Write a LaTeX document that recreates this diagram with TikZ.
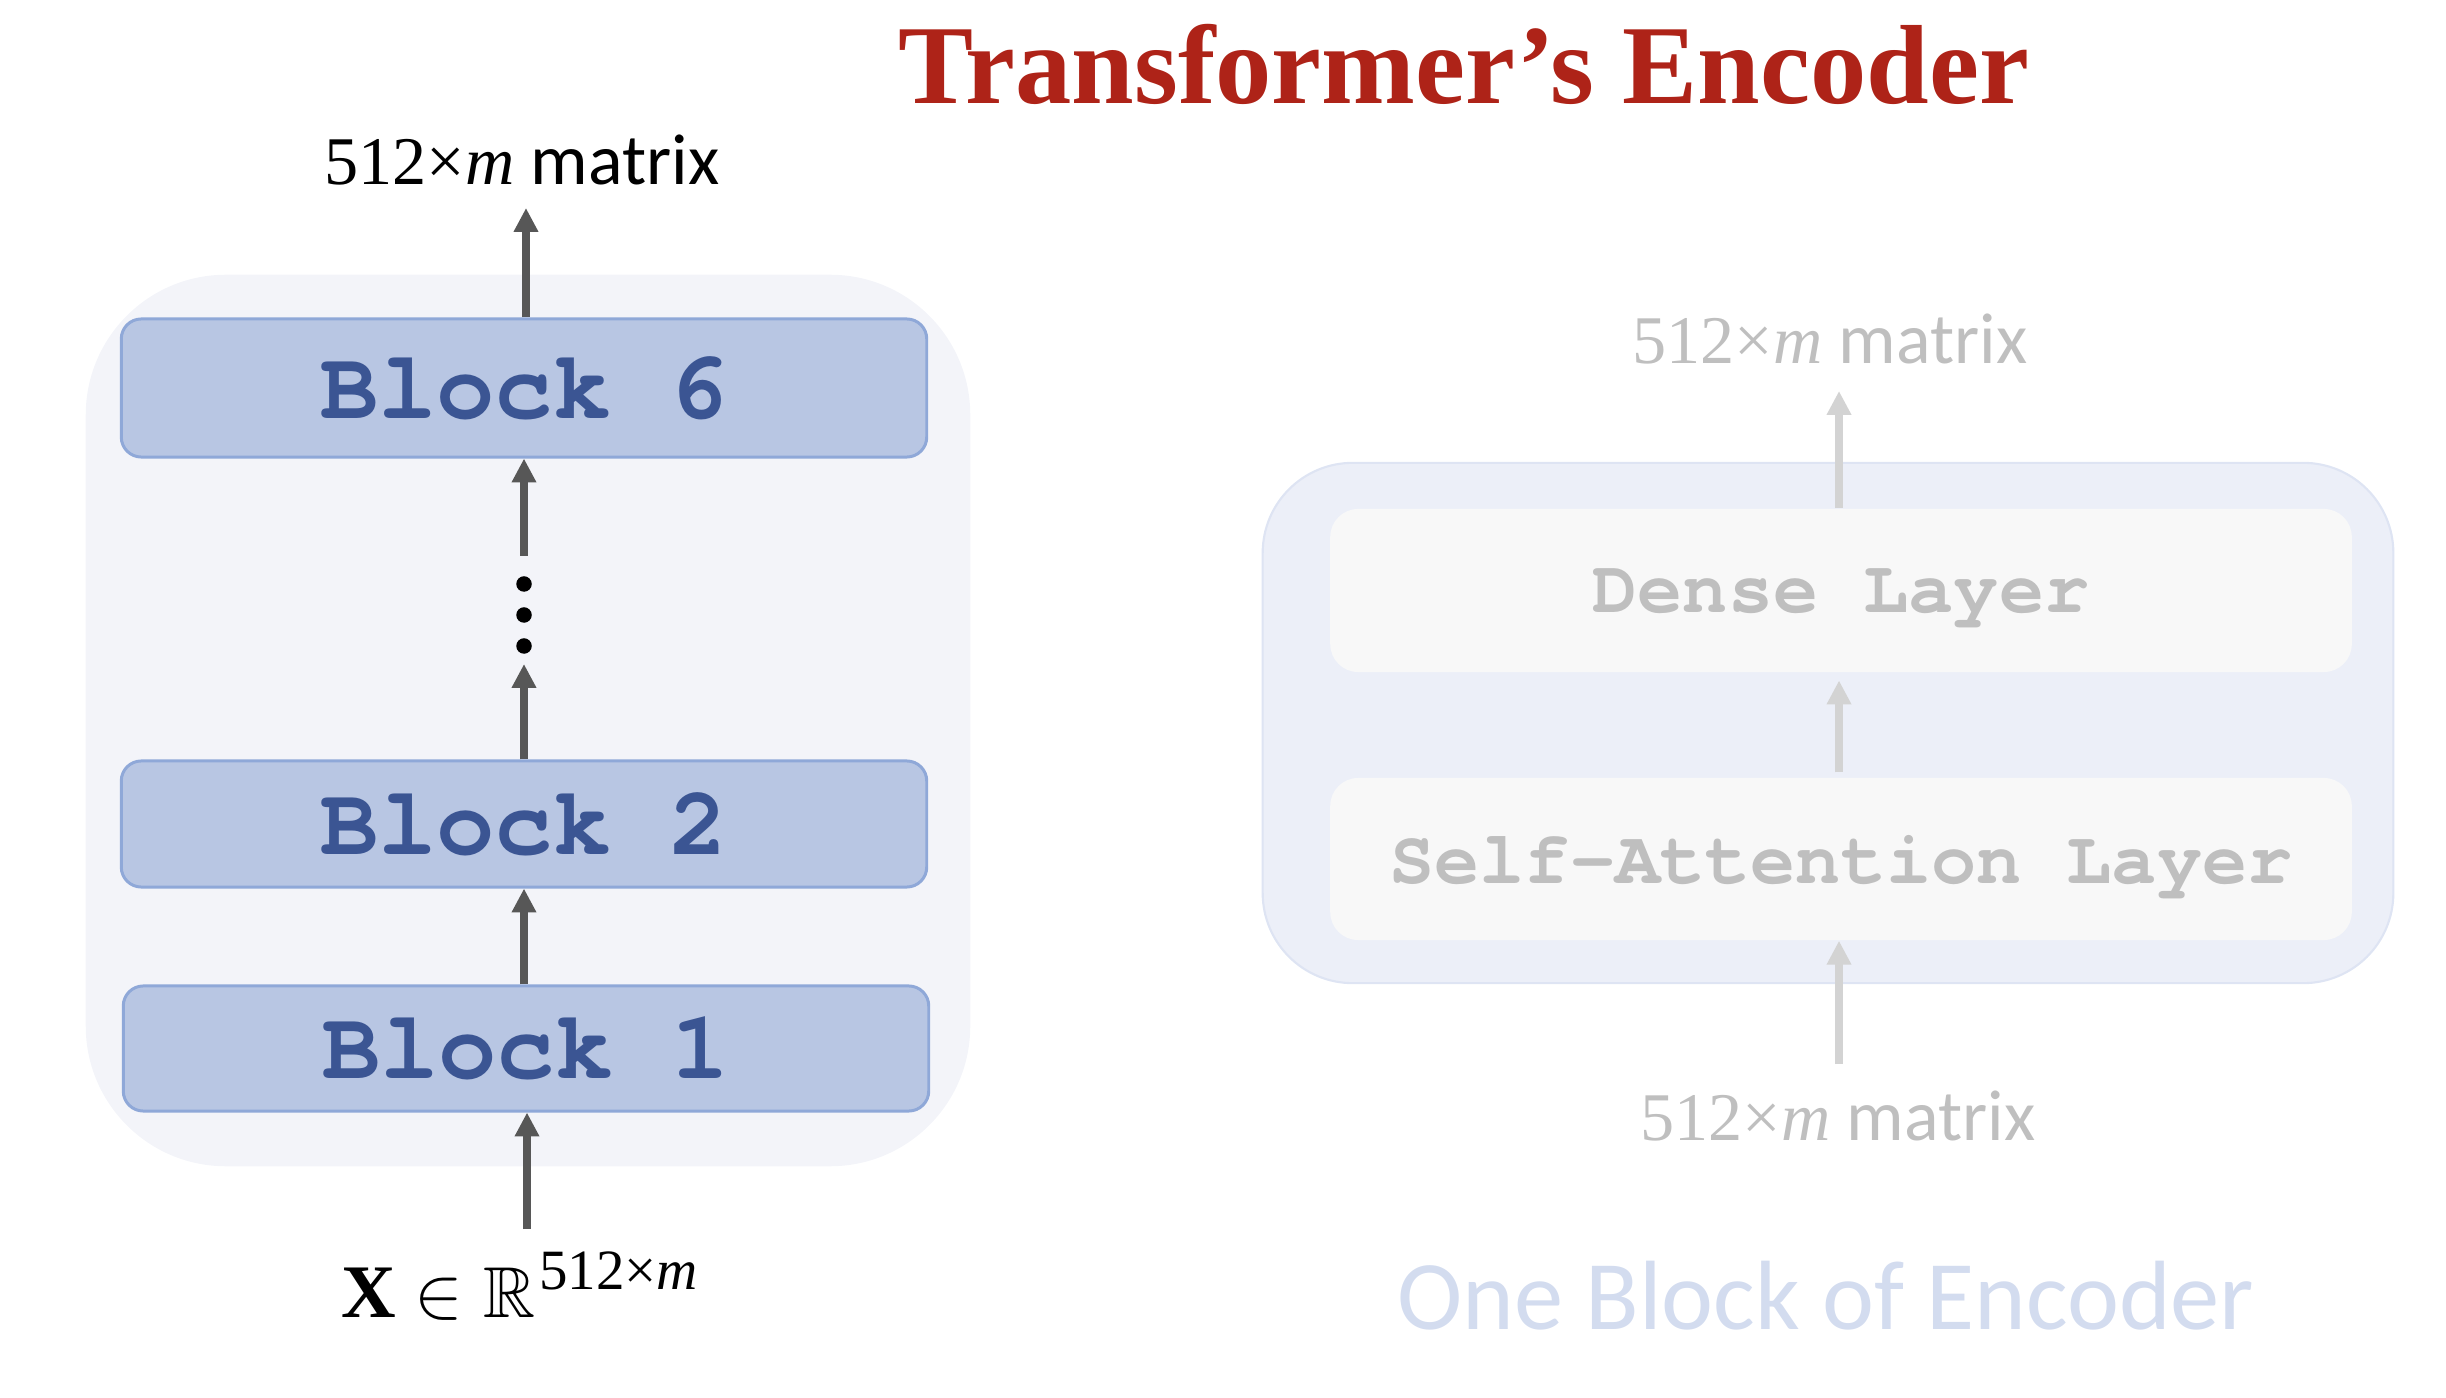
\documentclass[tikz,border=0pt]{standalone}
\usepackage{amssymb}
\usepackage{fontspec}
\setmainfont{Carlito}
\newfontfamily\monof{texgyrecursor}[Extension=.otf, UprightFont=*-regular, BoldFont=*-bold]
\newfontfamily\titlef{Liberation Serif}
\usetikzlibrary{arrows.meta}
\definecolor{titlered}{HTML}{AE2318}
\definecolor{outerL}{HTML}{F3F4F9}
\definecolor{blockfill}{HTML}{B8C6E3}
\definecolor{blockdraw}{HTML}{8FA8D8}
\definecolor{blocktext}{HTML}{3B5593}
\definecolor{arrowdark}{HTML}{575757}
\definecolor{outerR}{HTML}{ECEFF8}
\definecolor{outerRdraw}{HTML}{DEE4F3}
\definecolor{layerfill}{HTML}{F8F8F8}
\definecolor{lighttext}{HTML}{BFBFBF}
\definecolor{lightarrow}{HTML}{D3D3D3}
\definecolor{captionblue}{HTML}{D3DCEF}
\newcommand{\dimlbl}{{\titlef\fontsize{19.4pt}{22pt}\selectfont 512×\textit{m}}}
\tikzset{
  arrD/.style={draw=arrowdark, line width=2.2pt, -{Triangle[length=6.8pt,width=6.6pt]}},
  arrL/.style={draw=lightarrow, line width=2.2pt, -{Triangle[length=6.8pt,width=6.6pt]}},
  containerL/.style={fill=outerL, rounded corners=1.4cm, inner sep=0pt},
  containerR/.style={fill=outerR, draw=outerRdraw, line width=0.6pt, rounded corners=0.9cm, inner sep=0pt},
  blockbox/.style={fill=blockfill, draw=blockdraw, line width=0.85pt, rounded corners=0.2cm,
    minimum width=8.05cm, inner sep=0pt, text=blocktext,
    font=\monof\bfseries\fontsize{27.6pt}{30pt}\selectfont},
  layerbox/.style={fill=layerfill, rounded corners=0.28cm, minimum width=10.21cm, inner sep=0pt,
    text=lighttext, text depth=0pt, font=\monof\bfseries\fontsize{21.4pt}{24pt}\selectfont},
  lbl/.style={anchor=base, inner sep=0pt, font=\fontsize{20.5pt}{24pt}\selectfont},
  dotnode/.style={circle, fill=black, inner sep=0pt, minimum size=0.155cm},
}
\begin{document}
\begin{tikzpicture}[x=0.01cm, y=-0.01cm]
\useasboundingbox (0,0) rectangle (2446,1398);
% title
\node[anchor=base, inner sep=0pt, text=titlered, font=\titlef\bfseries\fontsize{32pt}{36pt}\selectfont] (title) at (1464,104) {Transformer’s Encoder};
% ---------- left: encoder stack
\node[containerL, minimum width=8.84cm, minimum height=8.91cm] (encL) at (528,720.5) {};
\node[blockbox, minimum height=1.38cm] (b6) at (524,388) {Block 6};
\node[blockbox, minimum height=1.26cm] (b2) at (524,824) {Block 2};
\node[blockbox, minimum height=1.25cm] (b1) at (526,1048.5) {Block 1};
\node[dotnode] (dot1) at (524,584) {};
\node[dotnode] (dot2) at (524,615) {};
\node[dotnode] (dot3) at (524,646) {};
\node[lbl] (outL) at (522,185) {\dimlbl\ matrix};
\node[lbl] (inL) at (520,1317) {{\titlef\bfseries\fontsize{21.5pt}{24pt}\selectfont X}\hspace{5pt}$\in$\hspace{6pt}$\mathbb{R}$\hspace{1pt}\raisebox{7.7pt}{\titlef\fontsize{16.2pt}{18pt}\selectfont 512×\textit{m}}};
\coordinate (outLtip) at (526,208);
\coordinate (inLstart) at (527,1229);
\coordinate (d6start) at (524,556);
\coordinate (d2tip) at (524,664);
\draw[arrD] (inLstart) -- (inLstart |- b1.south);
\draw[arrD] (b1.north -| b2.south) -- (b2.south);
\draw[arrD] (b2.north) -- (d2tip);
\draw[arrD] (d6start) -- (b6.south);
\draw[arrD] (outLtip |- b6.north) -- (outLtip);
% ---------- right: one block
\node[containerR, minimum width=11.3cm, minimum height=5.20cm] (encR) at (1828,723) {};
\node[layerbox, minimum height=1.63cm] (dense) at (1841,590.5) {Dense Layer};
\node[layerbox, minimum height=1.62cm] (sa) at (1841,859) {Self-Attention Layer};
\node[lbl, text=lighttext] (outR) at (1830,364) {\dimlbl\ matrix};
\node[lbl, text=lighttext] (inR) at (1838,1140) {\dimlbl\ matrix};
\coordinate (outRtip) at (1839,391);
\coordinate (inRstart) at (1839,1064);
\draw[arrL] (outRtip |- dense.north) -- (outRtip);
\draw[arrL, shorten >=2.2pt, shorten <=1.4pt] (outRtip |- sa.north) -- (outRtip |- dense.south);
\draw[arrL] (inRstart) -- (inRstart |- sa.south);
\node[anchor=base, inner sep=0pt, text=captionblue, font=\fontsize{28pt}{32pt}\selectfont] (caption) at (1826,1329) {One Block of Encoder};
\end{tikzpicture}
\end{document}
